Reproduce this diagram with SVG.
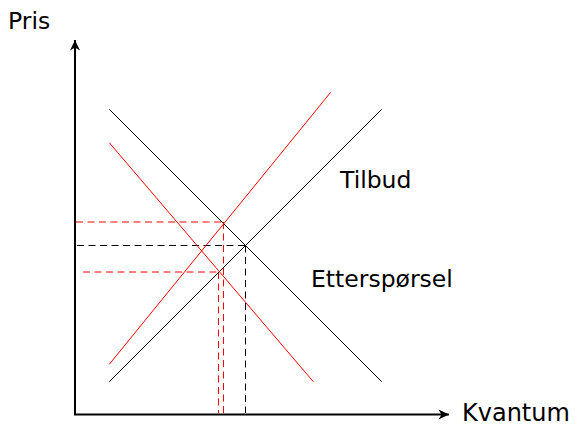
<svg xmlns="http://www.w3.org/2000/svg" width="575" height="429" viewBox="0 0 575 429">
<style>
.ax{stroke:#000;stroke-width:2;fill:none}
.blk{stroke:#000;stroke-width:1;fill:none}
.red{stroke:#ff0000;stroke-width:1;fill:none}
.dash{stroke-dasharray:7 4.5}
.lbl{font-family:"DejaVu Sans",sans-serif;font-size:23.5px;fill:#000}
</style>
<defs>
<marker id="arr" viewBox="-12 -6 14 12" refX="0" refY="0" markerWidth="14" markerHeight="12" markerUnits="userSpaceOnUse" orient="auto">
<path d="M0,0 L-10.5,-5 L-7.5,0 L-10.5,5 Z" fill="#000"/>
</marker>
</defs>
<g id="axes">
<line class="ax" x1="75" y1="414.5" x2="75" y2="40" marker-end="url(#arr)"/>
<line class="ax" x1="74" y1="414.5" x2="449" y2="414.5" marker-end="url(#arr)"/>
</g>
<g id="connectors">
<line class="red dash" x1="76" y1="222" x2="223.5" y2="222"/>
<line class="blk dash" x1="77" y1="245.5" x2="245.5" y2="245.5"/>
<line class="red dash" x1="83" y1="272" x2="219" y2="272"/>
<line class="red dash" x1="218.5" y1="272" x2="218.5" y2="413"/>
<line class="red dash" x1="223.5" y1="222" x2="223.5" y2="413"/>
<line class="blk dash" x1="245.5" y1="245.5" x2="245.5" y2="413"/>
</g>
<g id="supply">
<line class="blk" x1="109.3" y1="381.7" x2="381.7" y2="109.3"/>
</g>
<g id="demand">
<line class="blk" x1="109.3" y1="109.3" x2="381.7" y2="381.7"/>
</g>
<g id="supply-new">
<line class="red" x1="109.3" y1="364.3" x2="330.7" y2="92.3"/>
</g>
<g id="demand-new">
<line class="red" x1="109.3" y1="142.7" x2="313.3" y2="381.7"/>
</g>
<g id="labels">
<text class="lbl" x="8" y="29">Pris</text>
<text class="lbl" x="462" y="421" style="font-size:24px">Kvantum</text>
<text class="lbl" x="340" y="188">Tilbud</text>
<text class="lbl" x="311" y="287">Etterspørsel</text>
</g>
</svg>
